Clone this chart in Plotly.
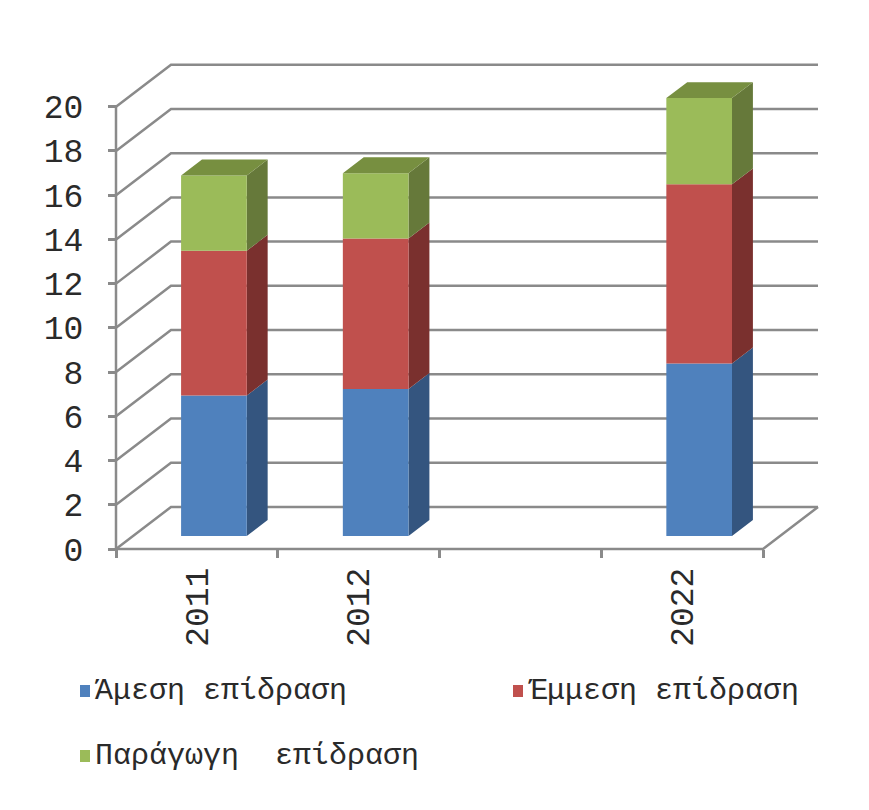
import plotly.graph_objects as go

# ---- data ----
years = ["2011", "2012", "", "2022"]
direct = [6.35, 6.65, None, 7.8]
indirect = [6.55, 6.8, None, 8.1]
induced = [3.4, 2.95, None, 3.9]
series_names = ["Άμεση επίδραση", "Έμμεση επίδραση", "Παράγωγη\u00a0 επίδραση"]
y_ticks = list(range(0, 21, 2))

# ---- styling ----
front_colors = ["#4F81BD", "#C0504D", "#9BBB59"]
side_colors = ["#34557F", "#7A302E", "#66793A"]
top_colors = ["#41679A", "#964140", "#778F40"]
grid_color = "#8A8A8A"
text_color = "#2A2A2A"
font_family = "Liberation Mono"

W, H = 869, 810
X0_PX, Y0_PX = 116, 549          # front-left floor corner
PX_PER_CAT = 161.75
PX_PER_UNIT = 22.115
DX = 55 / PX_PER_CAT             # oblique depth offset (category units)
DY = 42 / PX_PER_UNIT            # oblique depth offset (value units)
BAR_W = 0.406
D0, D1 = 0.31, 0.69              # depth span occupied by the columns

n_cat = len(years)
x_range = [-X0_PX / PX_PER_CAT, (W - X0_PX) / PX_PER_CAT]
y_range = [-(H - Y0_PX) / PX_PER_UNIT, Y0_PX / PX_PER_UNIT]
y_max = y_ticks[-1]

fig = go.Figure()

# walls, floor and axis lines
gx, gy = [], []
for v in y_ticks:
    gx += [0, DX, n_cat + DX, None]
    gy += [v, v + DY, v + DY, None]
gx += [0, n_cat, n_cat + DX, None, 0, 0]
gy += [0, 0, DY, None, 0, y_max]
fig.add_trace(go.Scatter(x=gx, y=gy, mode="lines",
                         line=dict(color=grid_color, width=2.5),
                         hoverinfo="skip", showlegend=False))

# stacked 3D columns
stacks = [direct, indirect, induced]
bases = [0.0] * n_cat
for k, vals in enumerate(stacks):
    fx, fy, sx, sy, tx, ty = [], [], [], [], [], []
    for i, v in enumerate(vals):
        if v is None:
            continue
        b = bases[i]
        t = b + v
        xl = i + 0.5 - BAR_W / 2
        xr = i + 0.5 + BAR_W / 2
        ox0, oy0 = D0 * DX, D0 * DY
        ox1, oy1 = D1 * DX, D1 * DY
        fx += [xl + ox0, xr + ox0, xr + ox0, xl + ox0, xl + ox0, None]
        fy += [b + oy0, b + oy0, t + oy0, t + oy0, b + oy0, None]
        sx += [xr + ox0, xr + ox1, xr + ox1, xr + ox0, xr + ox0, None]
        sy += [b + oy0, b + oy1, t + oy1, t + oy0, b + oy0, None]
        if k == len(stacks) - 1:
            tx += [xl + ox0, xr + ox0, xr + ox1, xl + ox1, xl + ox0, None]
            ty += [t + oy0, t + oy0, t + oy1, t + oy1, t + oy0, None]
        bases[i] = t
    for px, py, col in ((sx, sy, side_colors[k]), (fx, fy, front_colors[k]),
                        (tx, ty, top_colors[k])):
        if px:
            fig.add_trace(go.Scatter(x=px, y=py, mode="lines", fill="toself",
                                     fillcolor=col, line=dict(width=0, color=col),
                                     name=series_names[k], hoverinfo="skip",
                                     showlegend=False))

# legend
legend_pos = [(80, 691), (513, 691), (80, 756)]
for k, (lx, ly) in enumerate(legend_pos):
    fig.add_shape(type="rect", xref="paper", yref="paper",
                  x0=lx / W, x1=(lx + 10) / W,
                  y0=1 - (ly + 6) / H, y1=1 - (ly - 6) / H,
                  fillcolor=front_colors[k], line=dict(width=0))
    fig.add_annotation(xref="paper", yref="paper", x=(lx + 13) / W, y=1 - ly / H,
                       text=series_names[k], showarrow=False,
                       xanchor="left", yanchor="middle",
                       font=dict(family=font_family, size=30, color=text_color))

fig.update_layout(
    width=W, height=H,
    margin=dict(l=0, r=0, t=0, b=0, pad=0),
    paper_bgcolor="white", plot_bgcolor="white",
    showlegend=False,
    xaxis=dict(range=x_range, anchor="free", position=(H - Y0_PX) / H,
               tickvals=[i + 0.5 for i, y in enumerate(years) if y],
               ticktext=[y for y in years if y],
               tickangle=-90, ticks="", showgrid=False, zeroline=False,
               showline=False, ticklabelstandoff=11,
               tickfont=dict(family=font_family, size=33, color=text_color),
               minor=dict(tick0=0, dtick=1, ticks="outside", ticklen=8,
                          tickwidth=2.5, tickcolor=grid_color, showgrid=False)),
    yaxis=dict(range=y_range, anchor="free", position=X0_PX / W,
               tickvals=y_ticks, ticks="outside", ticklen=8, tickwidth=2.5,
               tickcolor=grid_color, showgrid=False, zeroline=False,
               showline=False, ticklabelstandoff=18,
               tickfont=dict(family=font_family, size=33, color=text_color)),
)

fig.write_html("out.html")
